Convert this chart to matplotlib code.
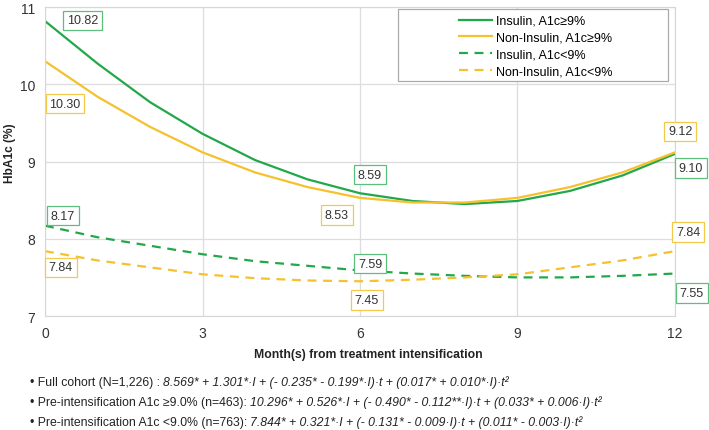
import matplotlib
matplotlib.use("Agg")
import matplotlib.pyplot as plt
import matplotlib.patches as patches

plt.rcParams['font.family'] = ['Liberation Sans', 'DejaVu Sans']

months = list(range(13))
ins_hi = [10.82, 10.27, 9.77, 9.36, 9.02, 8.77, 8.59, 8.49, 8.45, 8.49, 8.62, 8.82, 9.10]
non_hi = [10.30, 9.84, 9.45, 9.12, 8.86, 8.67, 8.53, 8.47, 8.47, 8.53, 8.67, 8.86, 9.12]
ins_lo = [8.17, 8.02, 7.91, 7.80, 7.71, 7.65, 7.59, 7.55, 7.52, 7.50, 7.50, 7.52, 7.55]
non_lo = [7.84, 7.72, 7.63, 7.54, 7.49, 7.46, 7.45, 7.47, 7.50, 7.54, 7.63, 7.72, 7.84]

series_labels = ["Insulin, A1c\u22659%", "Non-Insulin, A1c\u22659%",
                 "Insulin, A1c<9%", "Non-Insulin, A1c<9%"]

# (text, x, y, colour key)
value_boxes = [("10.82", 0.72, 10.83, "g"), ("10.30", 0.38, 9.75, "y"),
               ("8.59", 6.19, 8.83, "g"), ("8.53", 5.56, 8.31, "y"),
               ("9.12", 12.1, 9.39, "y"), ("9.10", 12.3, 8.92, "g"),
               ("8.17", 0.34, 8.30, "g"), ("7.84", 0.30, 7.63, "y"),
               ("7.59", 6.19, 7.68, "g"), ("7.45", 6.13, 7.21, "y"),
               ("7.84", 12.25, 8.09, "y"), ("7.55", 12.32, 7.30, "g")]

footnotes = [
    ("\u2022 Full cohort (N=1,226) : ",
     "8.569* + 1.301*\u00b7I + (- 0.235* - 0.199*\u00b7I)\u00b7t + (0.017* + 0.010*\u00b7I)\u00b7t\u00b2"),
    ("\u2022 Pre-intensification A1c \u22659.0% (n=463): ",
     "10.296* + 0.526*\u00b7I + (- 0.490* - 0.112**\u00b7I)\u00b7t + (0.033* + 0.006\u00b7I)\u00b7t\u00b2"),
    ("\u2022 Pre-intensification A1c <9.0% (n=763): ",
     "7.844* + 0.321*\u00b7I + (- 0.131* - 0.009\u00b7I)\u00b7t + (0.011* - 0.003\u00b7I)\u00b7t\u00b2"),
]

green = "#22a84a"
yellow = "#f5c12c"
box_edge = {"g": "#5cbf7c", "y": "#f4c94a"}

fig = plt.figure(figsize=(7.09, 4.31), dpi=100)
ax = fig.add_axes([0.0635, 0.2645, 0.8885, 0.7165])

ax.plot(months, ins_hi, color=green, lw=1.6, label=series_labels[0])
ax.plot(months, non_hi, color=yellow, lw=1.6, label=series_labels[1])
ax.plot(months, ins_lo, color=green, lw=1.6, ls=(0, (4, 3)), label=series_labels[2])
ax.plot(months, non_lo, color=yellow, lw=1.6, ls=(0, (4, 3)), label=series_labels[3])

for txt, x, y, c in value_boxes:
    ax.text(x, y, txt, fontsize=9, color="#333333", ha="center", va="center",
            clip_on=False, zorder=5,
            bbox=dict(boxstyle="square,pad=0.3", fc="white", ec=box_edge[c], lw=0.9))

ax.set_xlim(0, 12)
ax.set_ylim(7, 11)
ax.set_xticks([0, 3, 6, 9, 12])
ax.set_yticks([7, 8, 9, 10, 11])
ax.grid(True, color="#dddddd", lw=0.9)
ax.set_axisbelow(True)
for s in ax.spines.values():
    s.set_color("#d6d6d6")
ax.tick_params(length=0, labelsize=10, colors="#333333", pad=7)

fig.text(0.519, 1 - 355 / 431, "Month(s) from treatment intensification", fontsize=8.8,
         fontweight="bold", color="#222222", ha="center", va="center")
fig.text(10 / 709, 1 - 153 / 431, "HbA1c (%)", fontsize=8.6, fontweight="bold",
         color="#222222", ha="center", va="center", rotation=90)

# legend frame drawn separately, entries centred inside it
frame = patches.Rectangle((0.560, 0.761), 0.429, 0.233, transform=ax.transAxes,
                          fc="white", ec="#aaaaaa", lw=0.9, zorder=4)
ax.add_patch(frame)
leg = ax.legend(loc="center", bbox_to_anchor=(0.779, 0.874), fontsize=9,
                frameon=False, handlelength=2.6, handletextpad=0.3,
                borderpad=0.2, labelspacing=0.38)
leg.set_zorder(6)

ys = [1 - 389 / 431, 1 - 409 / 431, 1 - 429 / 431]
for (plain, ital), y in zip(footnotes, ys):
    t1 = fig.text(0.042, y, plain, fontsize=8.8, color="#222222", va="bottom")
    fig.canvas.draw()
    ax.annotate(ital, xy=(1, 0), xycoords=t1, fontsize=8.8, style="italic",
                color="#222222", va="bottom", annotation_clip=False)

fig.savefig("out.png", dpi=100)
